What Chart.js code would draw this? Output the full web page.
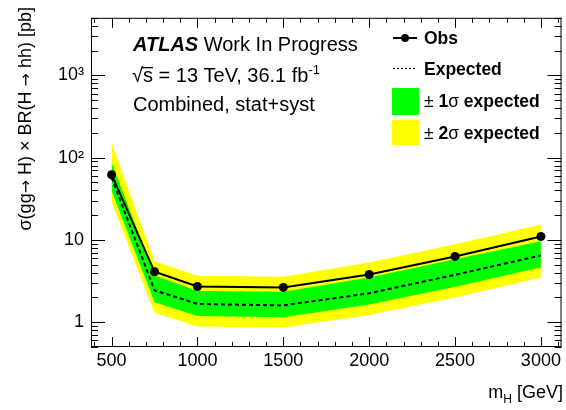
<!DOCTYPE html>
<html lang="en">
<head>
    <meta charset="UTF-8">
    <title>Heavy Higgs limit</title>
    <script src="https://cdn.jsdelivr.net/npm/chart.js"></script>
    <style>
        html, body { margin: 0; padding: 0; background: #fff; }
        canvas { display: block; }
    </style>
</head>
<body>
    <canvas id="limitChart" width="566" height="410"></canvas>

    <script>
        // Values (cross-section limits in pb)
        const mass = [500, 750, 1000, 1500, 2000, 2500, 3000];
        const observed = [62, 4.1, 2.72, 2.65, 3.8, 6.3, 11.0];
        const expected = [57, 2.44, 1.67, 1.60, 2.25, 3.77, 6.48];
        const oneSigmaUp = [87, 3.70, 2.40, 2.35, 3.50, 5.82, 9.63];
        const oneSigmaDown = [39.4, 1.75, 1.19, 1.15, 1.64, 2.70, 4.63];
        const twoSigmaUp = [153, 5.51, 3.67, 3.57, 5.31, 8.88, 15.4];
        const twoSigmaDown = [28.8, 1.30, 0.89, 0.86, 1.22, 2.0, 3.50];

        const xTicks = [500, 1000, 1500, 2000, 2500, 3000];
        const xTickLabels = ['500', '1000', '1500', '2000', '2500', '3000'];
        const yTicks = [1, 10, 100, 1000];
        const yTickLabels = ['1', '10', '10\u00B2', '10\u00B3'];

        const FONT = '"Liberation Sans", Arial, sans-serif';
        const pts = vals => mass.map((m, i) => ({ x: m, y: vals[i] }));

        // ROOT style frame with ticks on all four sides, pointing inwards
        const frameTicks = {
            id: 'frameTicks',
            afterDraw(chart) {
                const ctx = chart.ctx;
                const a = chart.chartArea;
                const xs = chart.scales.x;
                const ys = chart.scales.y;
                ctx.save();
                ctx.fillStyle = '#000';
                const w = a.right - a.left;
                const h = a.bottom - a.top;
                ctx.fillRect(a.left, a.top, w, 1);
                ctx.fillRect(a.left, a.bottom - 1, w, 1);
                ctx.fillRect(a.left, a.top, 1, h);
                ctx.fillRect(a.right - 1, a.top, 1, h);
                for (let v = 100; v <= 3200; v += 100) {
                    if (v < 380 || v > 3120) continue;
                    const px = Math.round(xs.getPixelForValue(v));
                    const len = v % 500 === 0 ? 10 : 5;
                    ctx.fillRect(px, a.bottom - len, 1, len);
                    ctx.fillRect(px, a.top, 1, len);
                }
                for (let e = -1; e <= 3; e++) {
                    for (let k = 1; k <= 9; k++) {
                        const v = k * Math.pow(10, e);
                        if (v < 0.5 || v > 5000) continue;
                        const py = Math.round(ys.getPixelForValue(v));
                        const len = k === 1 ? 14 : 7;
                        ctx.fillRect(a.left, py, len, 1);
                        ctx.fillRect(a.right - len, py, len, 1);
                    }
                }
                ctx.restore();
            }
        };

        function runs(ctx, x, yBase, parts) {
            parts.forEach(p => {
                ctx.font = p.font;
                ctx.fillText(p.text, x, yBase - (p.rise || 0));
                x += ctx.measureText(p.text).width;
            });
            return x;
        }

        function runsWidth(ctx, parts) {
            let w = 0;
            parts.forEach(p => { ctx.font = p.font; w += ctx.measureText(p.text).width; });
            return w;
        }

        // Labels, legend and axis titles
        const annotations = {
            id: 'annotations',
            afterDraw(chart) {
                const { ctx } = chart;
                ctx.save();
                ctx.fillStyle = '#000';
                ctx.textBaseline = 'alphabetic';
                ctx.textAlign = 'left';

                runs(ctx, 133, 51, [
                    { text: 'ATLAS', font: 'italic bold 20px ' + FONT },
                    { text: ' Work In Progress', font: '20px ' + FONT }
                ]);
                ctx.font = '20px ' + FONT;
                const rootW = ctx.measureText('\u221A').width;
                const sW = ctx.measureText('s').width;
                ctx.fillText('\u221A', 132, 82);
                ctx.fillRect(132 + rootW - 1, 82 - 15, sW + 1, 1.3);
                runs(ctx, 132 + rootW, 82, [
                    { text: 's = 13 TeV, 36.1 fb', font: '20px ' + FONT },
                    { text: '-1', font: '13px ' + FONT, rise: 8 }
                ]);
                ctx.font = '20px ' + FONT;
                ctx.fillText('Combined, stat+syst', 133, 111);

                // legend
                const bold = 'bold 17.5px ' + FONT;
                const norm = '17.5px ' + FONT;
                ctx.strokeStyle = '#000';
                ctx.lineWidth = 2;
                ctx.beginPath();
                ctx.moveTo(393, 38); ctx.lineTo(417, 38);
                ctx.stroke();
                ctx.beginPath();
                ctx.arc(405, 38, 4, 0, Math.PI * 2);
                ctx.fill();
                ctx.lineWidth = 1.2;
                ctx.setLineDash([2, 2]);
                ctx.beginPath();
                ctx.moveTo(393, 68.5); ctx.lineTo(417, 68.5);
                ctx.stroke();
                ctx.setLineDash([]);
                ctx.fillStyle = '#00ff00';
                ctx.fillRect(392, 88, 27, 27);
                ctx.fillStyle = '#ffff00';
                ctx.fillRect(392, 120, 27, 25);
                ctx.fillStyle = '#000';
                runs(ctx, 424, 44, [{ text: 'Obs', font: bold }]);
                runs(ctx, 424, 75, [{ text: 'Expected', font: bold }]);
                runs(ctx, 424, 107, [
                    { text: '\u00B1 ', font: norm },
                    { text: '1', font: bold },
                    { text: '\u03C3', font: norm },
                    { text: ' expected', font: bold }
                ]);
                runs(ctx, 424, 139, [
                    { text: '\u00B1 ', font: norm },
                    { text: '2', font: bold },
                    { text: '\u03C3', font: norm },
                    { text: ' expected', font: bold }
                ]);

                // x axis title: m_H [GeV]
                const xTitle = [
                    { text: 'm', font: '18px ' + FONT },
                    { text: 'H', font: '12px ' + FONT, rise: -5 },
                    { text: ' [GeV]', font: '18px ' + FONT }
                ];
                runs(ctx, 563 - runsWidth(ctx, xTitle), 398, xTitle);

                // y axis title, right-aligned at the top of the frame
                const f = '18px ' + FONT;
                const arrow = '16px "DejaVu Sans", ' + FONT;
                const yTitle = [
                    { text: '\u03C3(gg', font: f },
                    { text: '\u2192', font: arrow },
                    { text: ' H) \u00D7 BR(H ', font: f },
                    { text: '\u2192', font: arrow },
                    { text: ' hh) [pb]', font: f }
                ];
                ctx.translate(31, 7);
                ctx.rotate(-Math.PI / 2);
                runs(ctx, -runsWidth(ctx, yTitle), 0, yTitle);
                ctx.restore();
            }
        };

        const line = (vals, extra) => Object.assign({
            data: pts(vals),
            borderWidth: 0,
            pointRadius: 0,
            tension: 0,
            fill: false
        }, extra);

        new Chart(document.getElementById('limitChart').getContext('2d'), {
            type: 'line',
            data: {
                datasets: [
                    line(observed, {
                        label: 'Obs', borderColor: '#000', borderWidth: 2,
                        pointRadius: 4.5, pointBackgroundColor: '#000', pointBorderWidth: 0
                    }),
                    line(expected, {
                        label: 'Expected', borderColor: '#000', borderWidth: 2, borderDash: [4, 3]
                    }),
                    line(oneSigmaUp, { label: '1 sigma up', fill: '+1', backgroundColor: '#00ff00', borderColor: 'transparent' }),
                    line(oneSigmaDown, { label: '1 sigma down', borderColor: 'transparent' }),
                    line(twoSigmaUp, { label: '2 sigma up', fill: '+1', backgroundColor: '#ffff00', borderColor: 'transparent' }),
                    line(twoSigmaDown, { label: '2 sigma down', borderColor: 'transparent' })
                ]
            },
            options: {
                responsive: false,
                devicePixelRatio: 1,
                animation: false,
                layout: { padding: { top: 7, right: 2, left: 0, bottom: 0 } },
                plugins: {
                    legend: { display: false },
                    tooltip: { enabled: false }
                },
                scales: {
                    x: {
                        type: 'linear',
                        min: 380,
                        max: 3120,
                        grid: { display: false, drawTicks: false },
                        border: { display: false },
                        afterBuildTicks: s => { s.ticks = xTicks.map(v => ({ value: v })); },
                        afterFit: s => { s.height = 63; },
                        ticks: {
                            color: '#000',
                            padding: 3,
                            maxRotation: 0,
                            autoSkip: false,
                            font: { family: FONT, size: 18 },
                            callback: (v) => xTickLabels[xTicks.indexOf(v)]
                        }
                    },
                    y: {
                        type: 'logarithmic',
                        min: 0.5,
                        max: 5000,
                        grid: { display: false, drawTicks: false },
                        border: { display: false },
                        afterBuildTicks: s => { s.ticks = yTicks.map(v => ({ value: v })); },
                        afterFit: s => { s.width = 91; },
                        ticks: {
                            color: '#000',
                            padding: 7,
                            autoSkip: false,
                            font: { family: FONT, size: 18 },
                            callback: (v) => yTickLabels[yTicks.indexOf(v)]
                        }
                    }
                }
            },
            plugins: [frameTicks, annotations]
        });
    </script>
</body>
</html>
